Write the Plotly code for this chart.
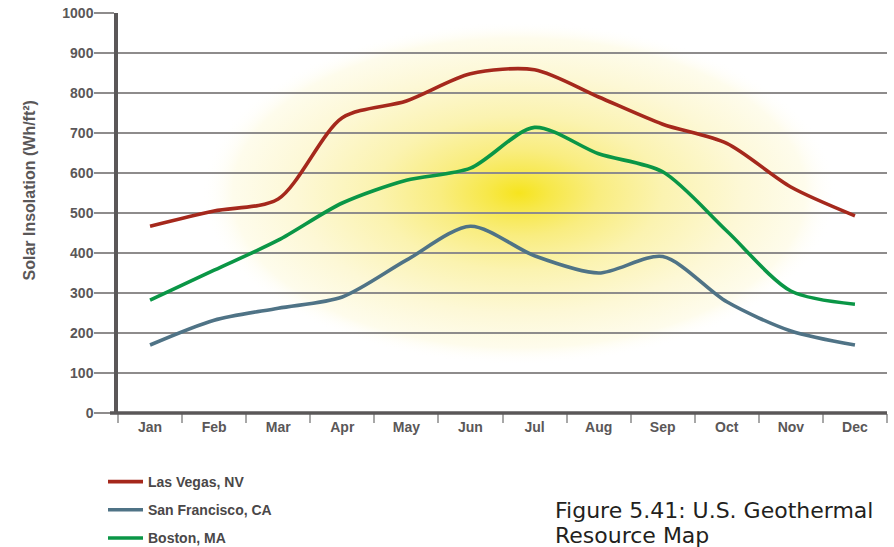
import base64
import plotly.graph_objects as go

months = ["Jan", "Feb", "Mar", "Apr", "May", "Jun", "Jul", "Aug", "Sep", "Oct", "Nov", "Dec"]
las_vegas = [467, 505, 535, 738, 780, 848, 858, 790, 722, 674, 565, 493]
san_francisco = [170, 232, 262, 290, 382, 467, 393, 350, 391, 278, 205, 170]
boston = [282, 357, 432, 525, 582, 612, 714, 648, 603, 455, 305, 272]
y_ticks = [0, 100, 200, 300, 400, 500, 600, 700, 800, 900, 1000]

series = [
    ("Las Vegas, NV", las_vegas, "#A5281C"),
    ("San Francisco, CA", san_francisco, "#4F7386"),
    ("Boston, MA", boston, "#0A9646"),
]

W, H = 894, 547
L, R, T, B = 118, 7, 13, 134
PW, PH = W - L - R, H - T - B

def px_x(p):
    return (p - L) / PW

def px_y(p):
    return (H - B - p) / PH

fig = go.Figure()
for i, (name, vals, col) in enumerate(series):
    fig.add_trace(go.Scatter(
        x=months, y=vals, name=name, mode="lines",
        line=dict(color=col, width=3.6, shape="spline", smoothing=0.8),
        legendgroup=str(i),
    ))

svg = (
    "<svg xmlns='http://www.w3.org/2000/svg' width='600' height='400' viewBox='0 0 600 400' preserveAspectRatio='none'>"
    "<defs><radialGradient id='g' cx='0.5' cy='0.5' r='0.5'>"
    "<stop offset='0' stop-color='#F6E41E' stop-opacity='1'/>"
    "<stop offset='0.1' stop-color='#F7E84A' stop-opacity='1'/>"
    "<stop offset='0.25' stop-color='#F9ED80' stop-opacity='1'/>"
    "<stop offset='0.45' stop-color='#FBF3B0' stop-opacity='1'/>"
    "<stop offset='0.7' stop-color='#FDF8D6' stop-opacity='1'/>"
    "<stop offset='0.9' stop-color='#FEFCEC' stop-opacity='1'/>"
    "<stop offset='1' stop-color='#FFFFFF' stop-opacity='0'/>"
    "</radialGradient></defs>"
    "<rect x='0' y='0' width='600' height='400' fill='url(#g)'/></svg>"
)
src = "data:image/svg+xml;base64," + base64.b64encode(svg.encode()).decode()

cx, cy, hw, hh = 519, 193, 318, 172
fig.add_layout_image(dict(
    source=src, xref="paper", yref="paper",
    x=px_x(cx - hw), y=px_y(cy - hh),
    sizex=2 * hw / PW, sizey=2 * hh / PH,
    sizing="stretch", layer="below", xanchor="left", yanchor="top",
))

# extend x-axis line slightly left of the y-axis
fig.add_shape(type="line", xref="paper", yref="paper",
              x0=px_x(110), x1=1, y0=0, y1=0,
              line=dict(color="#5A5758", width=3.5), layer="above")

fig.add_annotation(text="Solar Insolation (Wh/ft²)", textangle=-90,
                   xref="paper", yref="paper", x=px_x(19), y=px_y(191),
                   showarrow=False,
                   font=dict(family="Liberation Sans", size=16, color="#5A5758", weight="bold"))

fig.add_annotation(text="Figure 5.41: U.S. Geothermal", xref="paper", yref="paper",
                   x=px_x(553), y=px_y(510), xanchor="left", yanchor="middle",
                   showarrow=False,
                   font=dict(family="DejaVu Sans", size=22, color="#231F20"))
fig.add_annotation(text="Resource Map", xref="paper", yref="paper",
                   x=px_x(553), y=px_y(535), xanchor="left", yanchor="middle",
                   showarrow=False,
                   font=dict(family="DejaVu Sans", size=22, color="#231F20"))

fig.update_layout(
    width=W, height=H,
    margin=dict(l=L, r=R, t=T, b=B, pad=0, autoexpand=False),
    paper_bgcolor="white", plot_bgcolor="rgba(0,0,0,0)",
    font=dict(family="Liberation Sans", color="#5A5758"),
    showlegend=True,
    legend=dict(
        x=px_x(103), y=px_y(466), xanchor="left", yanchor="top",
        traceorder="grouped", tracegroupgap=7, itemwidth=35,
        font=dict(family="Liberation Sans", size=14, color="#4A4748", weight="bold"),
        bgcolor="rgba(0,0,0,0)", borderwidth=0,
    ),
    xaxis=dict(
        type="category", categoryorder="array", categoryarray=months,
        range=[-0.5, 11.5], showgrid=False, zeroline=False,
        showline=False, ticks="outside", tickson="boundaries",
        ticklen=9, tickwidth=1.5, tickcolor="#A8A8A8",
        tickfont=dict(family="Liberation Sans", size=14, color="#5A5758", weight="bold"),
        ticklabelstandoff=4,
    ),
    yaxis=dict(
        range=[0, 1000], tickvals=y_ticks, ticktext=[str(v) for v in y_ticks],
        showgrid=True, gridcolor="#8E8C8C", gridwidth=2,
        zeroline=False, showline=True, linecolor="#5A5758", linewidth=3.5,
        ticks="outside", ticklen=20, tickwidth=2, tickcolor="#8E8C8C",
        tickfont=dict(family="Liberation Sans", size=14, color="#5A5758", weight="bold"),
        ticklabelstandoff=-2,
    ),
)

fig.write_html("out.html", config={"displayModeBar": False},
               post_script="document.body.style.margin='0';document.body.style.overflow='hidden';")
